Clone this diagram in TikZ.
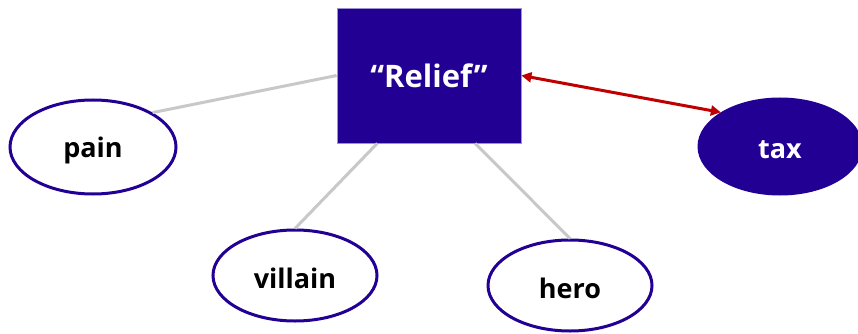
\documentclass[tikz,border=0pt]{standalone}
\usepackage{fontspec}
\setmainfont{Open Sans}
\usetikzlibrary{shapes.geometric,arrows.meta,calc}
\definecolor{navy}{HTML}{220094}
\definecolor{rimline}{HTML}{9C8FD6}
\definecolor{linkgray}{HTML}{C8C8C8}
\definecolor{arrowred}{HTML}{C00000}
\newcommand{\lowtext}[1]{\raisebox{-3pt}[\height][\depth]{#1}}
\tikzset{
  oval/.style={ellipse, draw=navy, line width=3pt, fill=white, inner sep=0pt, font=\bfseries\fontsize{27}{32}\selectfont},
  ovalfill/.style={oval, fill=navy, text=white},
  link/.style={draw=linkgray, line width=3pt},
  rel/.style={<->, >={Triangle[length=10pt,width=10pt]}, draw=arrowred, line width=3pt}
}
\begin{document}
\begin{tikzpicture}[x=1pt,y=-1pt]
\useasboundingbox (0,0) rectangle (858,334);
\node[draw=rimline, line width=0.8pt, fill=navy, text=white, minimum width=184pt, minimum height=135pt, inner sep=0pt, font=\bfseries\fontsize{31}{36}\selectfont] (relief) at (429,75.5) {“Relief”};
\node[oval, minimum width=166pt, minimum height=94pt] (pain) at (93,147) {\lowtext{pain}};
\node[oval, minimum width=164pt, minimum height=91pt] (villain) at (295,275.5) {\lowtext{villain}};
\node[oval, minimum width=164pt, minimum height=91pt] (hero) at (570,285.5) {\lowtext{hero}};
\node[ovalfill, minimum width=162pt, minimum height=95pt] (tax) at (780,146.5) {\lowtext{tax}};
\draw[link] (relief.west) -- (pain.30);
\draw[link] ($(relief.south west)!0.22!(relief.south east)$) -- (villain.north);
\draw[link] ($(relief.south west)!0.75!(relief.south east)$) -- (hero.north);
\draw[rel] (relief.east) -- (tax.150);
\end{tikzpicture}
\end{document}
